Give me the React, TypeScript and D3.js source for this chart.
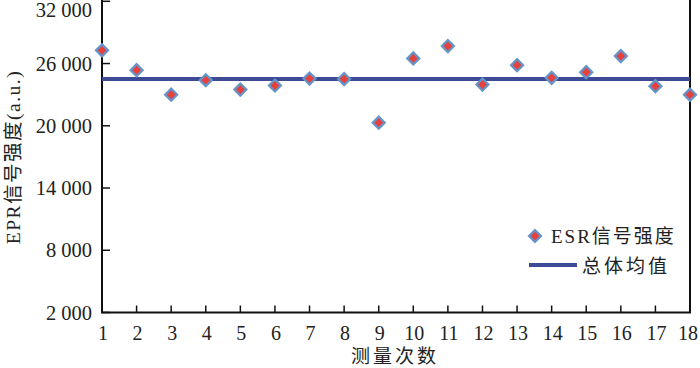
import * as d3 from "d3";

const runs = d3.range(1, 19);
const signal = [
  27270, 25360, 23000, 24390, 23490, 23880, 24550, 24500, 20300, 26490, 27680,
  23970, 25840, 24620, 25170, 26720, 23820, 23000,
];
const meanValue = 24500;
const yTicks = [2000, 8000, 14000, 20000, 26000, 32000];
const seriesLabel = "ESR信号强度";
const meanLabel = "总体均值";
const xTitle = "测量次数";
const yTitle = "EPR信号强度(a.u.)";

const W = 700;
const H = 368;
const left = 102;
const right = 690;
const top = 1.3;
const bottom = 312.5;

const fontFam = "'Liberation Serif', 'Noto Sans CJK SC', serif";
const lineColor = "#3e4a95";
const blue = "#6594c9";
const red = "#e8403b";

const fmt = (v: number) => {
  const s = String(v);
  return s.length > 3 ? s.slice(0, -3) + " " + s.slice(-3) : s;
};

const App = () => {
  const x = d3.scaleLinear().domain([1, 18]).range([left, right]);
  const y = d3.scaleLinear().domain([2000, 32000]).range([bottom, top]);

  // square rotated 45deg gives the diamond marker
  const outer = d3.symbol(d3.symbolSquare, 115)();
  const inner = d3.symbol(d3.symbolSquare, 38)();

  const marker = (cx: number, cy: number, key: string | number) => (
    <g key={key} transform={`translate(${cx},${cy}) rotate(45)`}>
      <path d={outer ?? ""} fill={blue} />
      <path d={inner ?? ""} fill={red} />
    </g>
  );

  return (
    <svg
      width={W}
      height={H}
      style={{ position: "absolute", left: 0, top: 0, background: "#fff" }}
      fontFamily={fontFam}
    >
      {/* axes frame */}
      <line x1={left} x2={left} y1={0} y2={bottom} stroke="#111" strokeWidth={2} />
      <line x1={right} x2={right} y1={0} y2={bottom} stroke="#111" strokeWidth={2} />
      <line x1={left - 1} x2={right + 1} y1={bottom} y2={bottom} stroke="#111" strokeWidth={2} />

      {yTicks.map((t) => (
        <g key={t}>
          <line x1={left} x2={left + 8} y1={y(t)} y2={y(t)} stroke="#111" strokeWidth={1.5} />
          <text
            x={left - 10}
            y={Math.max(y(t), 10)}
            textAnchor="end"
            dominantBaseline="central"
            fontSize={20.5}
            fill="#222"
          >
            {fmt(t)}
          </text>
        </g>
      ))}

      {runs.map((r) => (
        <g key={r}>
          {r > 1 && r < 18 && (
            <line x1={x(r)} x2={x(r)} y1={bottom} y2={bottom - 7} stroke="#111" strokeWidth={1.5} />
          )}
          <text
            x={r === 18 ? x(r) - 2 : x(r) + 1}
            y={333}
            textAnchor="middle"
            dominantBaseline="central"
            fontSize={20}
            fill="#222"
          >
            {r}
          </text>
        </g>
      ))}

      <text
        x={395}
        y={356}
        textAnchor="middle"
        dominantBaseline="central"
        fontSize={19}
        letterSpacing={3}
        fill="#222"
      >
        {xTitle}
      </text>
      <text
        transform={`translate(13,157) rotate(-90)`}
        textAnchor="middle"
        dominantBaseline="central"
        fontSize={19.5}
        letterSpacing={1.5}
        fill="#222"
      >
        {yTitle}
      </text>

      {/* mean line */}
      <line x1={left} x2={right} y1={y(meanValue)} y2={y(meanValue)} stroke={lineColor} strokeWidth={4} />

      {signal.map((v, i) => marker(x(runs[i]), y(v), i))}

      {/* legend */}
      {marker(535, 236, "leg")}
      <text x={551} y={236} dominantBaseline="central" fontSize={19} letterSpacing={2} fill="#222">
        {seriesLabel}
      </text>
      <line x1={529} x2={577} y1={265} y2={265} stroke={lineColor} strokeWidth={4} />
      <text x={582} y={266} dominantBaseline="central" fontSize={19} letterSpacing={3} fill="#222">
        {meanLabel}
      </text>
    </svg>
  );
};

export default App;
